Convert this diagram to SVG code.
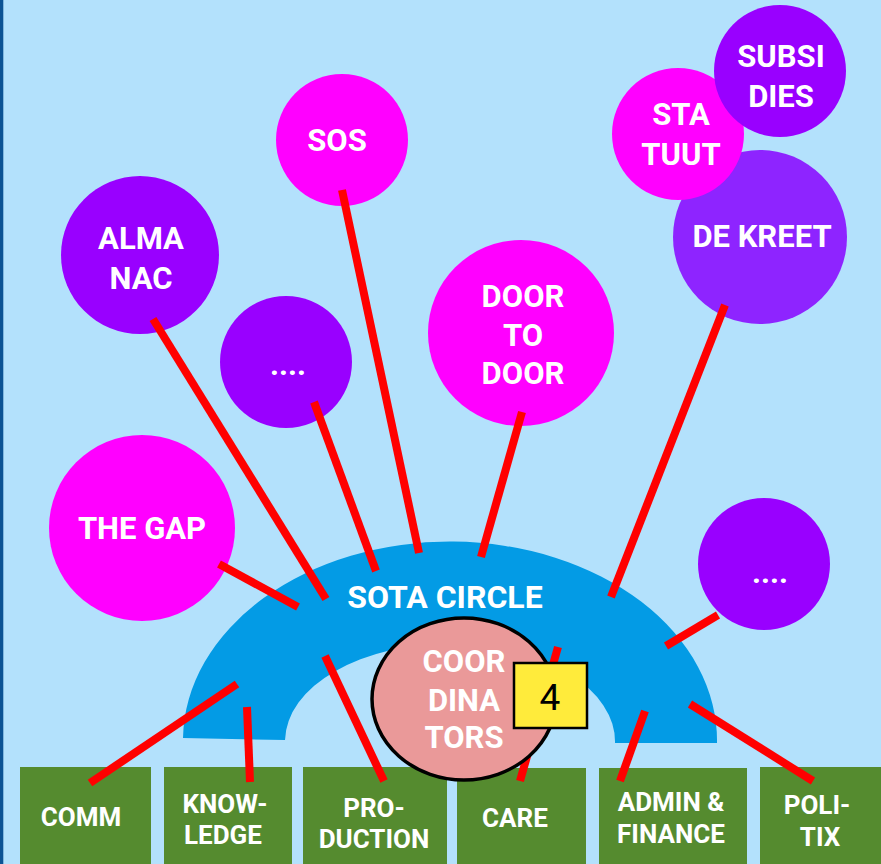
<svg xmlns="http://www.w3.org/2000/svg" width="881" height="864" viewBox="0 0 881 864">
<style>
.bg{fill:#B3E1FC}
.mag{fill:#FF00FF}
.pur{fill:#9900FF}
.box{fill:#558B2F}
.t{font-family:Roboto,"Liberation Sans",sans-serif;font-weight:bold;fill:#FFFFFF;text-anchor:middle}
.ct{font-size:31px}
.bt{font-size:26px}
#connectors line{stroke:#FF0000;stroke-width:8;stroke-linecap:butt}
</style>
<rect class="bg" x="0" y="0" width="881" height="864"/>
<rect x="0" y="0" width="3.3" height="864" fill="#0B5394"/>

<g id="almanac"><circle class="pur" cx="140" cy="255" r="79"/><text class="t ct" x="141" y="249">ALMA</text><text class="t ct" x="141" y="289">NAC</text></g>
<g id="sos"><circle class="mag" cx="342" cy="140" r="66"/><text class="t ct" x="337" y="151">SOS</text></g>
<g id="dots1"><circle class="pur" cx="286" cy="362" r="66"/><text class="t ct" x="288" y="375">....</text></g>
<g id="door"><circle class="mag" cx="521" cy="333" r="93"/><text class="t ct" x="523" y="307">DOOR</text><text class="t ct" x="523" y="346">TO</text><text class="t ct" x="523" y="384">DOOR</text></g>
<g id="thegap"><circle class="mag" cx="142" cy="528" r="93"/><text class="t ct" x="142" y="539">THE GAP</text></g>
<g id="dekreet"><circle cx="760" cy="237" r="87" fill="#8E24FF"/><text class="t ct" x="762" y="247">DE KREET</text></g>
<g id="statuut"><circle class="mag" cx="678" cy="134" r="66"/><text class="t ct" x="681" y="125">STA</text><text class="t ct" x="681" y="165">TUUT</text></g>
<g id="subsidies"><circle class="pur" cx="780" cy="71" r="66"/><text class="t ct" x="781" y="67">SUBSI</text><text class="t ct" x="781" y="107">DIES</text></g>
<g id="dots2"><circle class="pur" cx="764" cy="564" r="66"/><text class="t ct" x="770" y="583">....</text></g>

<g id="sota"><path d="M183,738 A267,199 0 0 1 717,743 L615,743 A165,98 0 0 0 285,740 Z" fill="#039BE5"/><text class="t" style="font-size:32px" x="445" y="608">SOTA CIRCLE</text></g>

<g id="comm"><rect class="box" x="20" y="767" width="131" height="97"/><text class="t bt" x="81" y="826">COMM</text></g>
<g id="knowledge"><rect class="box" x="164" y="767" width="128" height="97"/><text class="t bt" x="225" y="813">KNOW-</text><text class="t bt" x="223" y="844">LEDGE</text></g>
<g id="production"><rect class="box" x="303" y="767" width="144" height="97"/><text class="t bt" x="374" y="817">PRO-</text><text class="t bt" x="374" y="848">DUCTION</text></g>
<g id="care"><rect class="box" x="457" y="768" width="129" height="96"/><text class="t bt" x="515" y="827">CARE</text></g>
<g id="admin"><rect class="box" x="599" y="768" width="148" height="96"/><text class="t bt" x="671" y="811">ADMIN &amp;</text><text class="t bt" x="671" y="843">FINANCE</text></g>
<g id="politix"><rect class="box" x="760" y="767" width="121" height="97"/><text class="t bt" x="817" y="814">POLI-</text><text class="t bt" x="820" y="846">TIX</text></g>

<g id="connectors">
<line x1="153" y1="319" x2="326" y2="599"/>
<line x1="314" y1="402" x2="376" y2="571"/>
<line x1="342" y1="190" x2="419" y2="553"/>
<line x1="522" y1="412" x2="481" y2="557"/>
<line x1="725" y1="305" x2="611" y2="597"/>
<line x1="219" y1="564" x2="298" y2="607"/>
<line x1="718" y1="615" x2="666" y2="646"/>
<line x1="237" y1="684" x2="90" y2="783"/>
<line x1="247" y1="707" x2="250" y2="782"/>
<line x1="325" y1="656" x2="384" y2="781"/>
<line x1="558" y1="647" x2="520" y2="781"/>
<line x1="645" y1="711" x2="620" y2="781"/>
<line x1="690" y1="704" x2="813" y2="781"/>
</g>

<g id="coordinators"><ellipse cx="464" cy="699" rx="92" ry="81" fill="#EA9999" stroke="#000000" stroke-width="3.5"/><text class="t" style="font-size:31px" x="464" y="672">COOR</text><text class="t" style="font-size:31px" x="464" y="711">DINA</text><text class="t" style="font-size:31px" x="464" y="748">TORS</text></g>
<g id="count"><rect x="514" y="663" width="73" height="65" fill="#FFEB3B" stroke="#000000" stroke-width="2.5"/><text x="550" y="710" style="font-family:Roboto,'Liberation Sans',sans-serif;font-size:37px;fill:#000000;text-anchor:middle">4</text></g>
</svg>
